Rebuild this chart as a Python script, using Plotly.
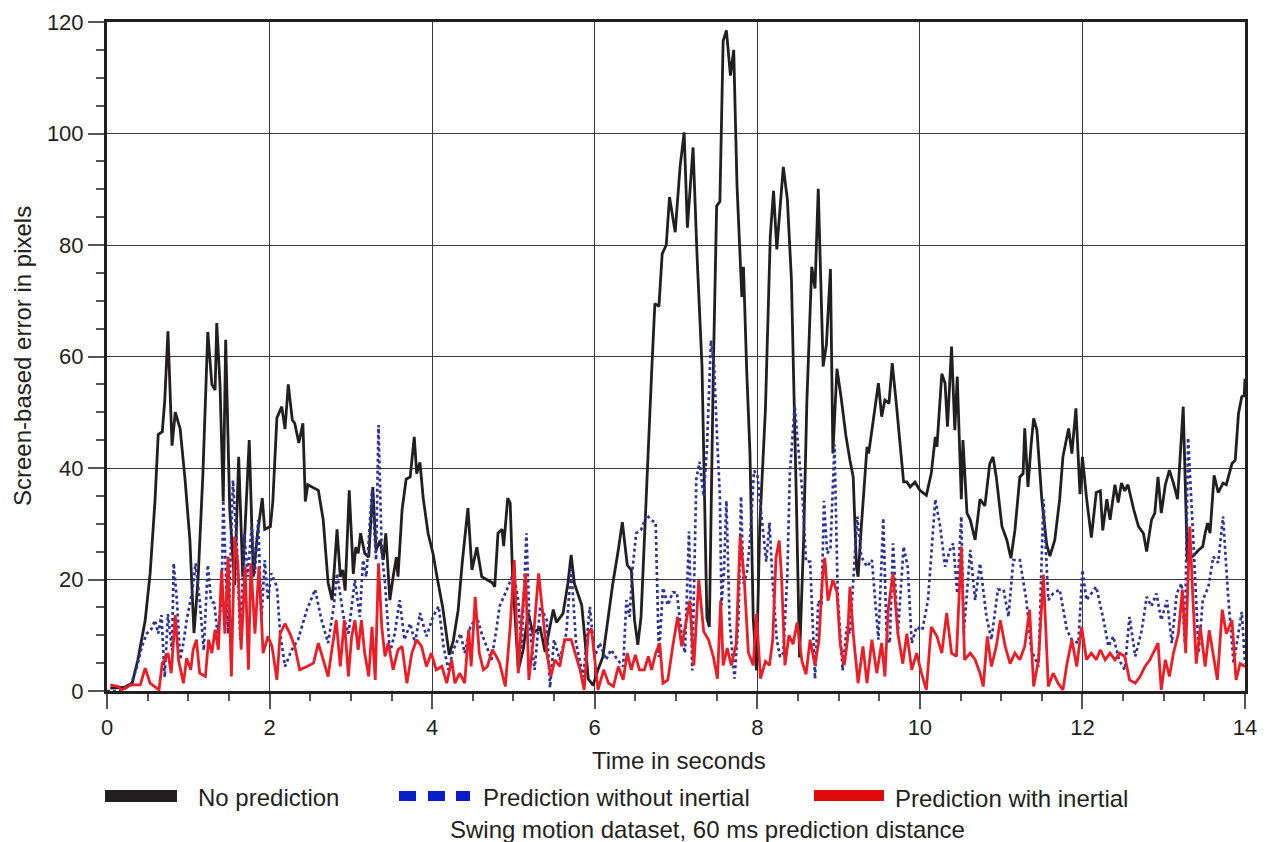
import plotly.graph_objects as go

# ---------------- data ----------------
t_none = [0.04, 0.22, 0.31, 0.38, 0.47, 0.53, 0.59, 0.63, 0.68, 0.71, 0.75, 0.80, 0.84, 0.90, 0.96,
          1.02, 1.07, 1.12, 1.18, 1.24, 1.29, 1.33, 1.35, 1.39, 1.43, 1.46, 1.51, 1.57, 1.62, 1.67,
          1.75, 1.80, 1.85, 1.91, 1.94, 2.01, 2.04, 2.09, 2.15, 2.19, 2.23, 2.28, 2.31, 2.36, 2.41,
          2.44, 2.47, 2.53, 2.60, 2.66, 2.72, 2.77, 2.83, 2.87, 2.90, 2.93, 2.98, 3.03, 3.06, 3.09,
          3.12, 3.17, 3.22, 3.27, 3.31, 3.36, 3.40, 3.43, 3.48, 3.52, 3.56, 3.58, 3.63, 3.68, 3.73,
          3.78, 3.81, 3.85, 3.89, 3.95, 4.01, 4.06, 4.13, 4.21, 4.26, 4.32, 4.37, 4.44, 4.49, 4.55,
          4.61, 4.67, 4.74, 4.77, 4.81, 4.86, 4.88, 4.93, 4.96, 4.99, 5.06, 5.12, 5.18, 5.24, 5.33,
          5.39, 5.45, 5.49, 5.53, 5.61, 5.67, 5.71, 5.75, 5.84, 5.88, 5.92, 5.98, 6.04, 6.10, 6.16,
          6.22, 6.29, 6.34, 6.40, 6.45, 6.49, 6.53, 6.57, 6.62, 6.66, 6.70, 6.74, 6.79, 6.83, 6.88,
          6.92, 6.99, 7.05, 7.10, 7.14, 7.21, 7.26, 7.32, 7.38, 7.41, 7.46, 7.50, 7.54, 7.58, 7.62,
          7.67, 7.71, 7.75, 7.81, 7.83, 7.87, 7.91, 7.95, 7.99, 8.03, 8.10, 8.16, 8.20, 8.24, 8.28,
          8.32, 8.37, 8.42, 8.48, 8.52, 8.57, 8.61, 8.67, 8.71, 8.75, 8.78, 8.81, 8.85, 8.90, 8.93,
          8.98, 9.03, 9.09, 9.14, 9.18, 9.22, 9.24, 9.28, 9.35, 9.37, 9.43, 9.49, 9.53, 9.57, 9.62,
          9.66, 9.71, 9.80, 9.84, 9.88, 9.94, 10.00, 10.08, 10.14, 10.19, 10.21, 10.27, 10.31, 10.34,
          10.39, 10.43, 10.46, 10.51, 10.53, 10.58, 10.62, 10.68, 10.74, 10.80, 10.86, 10.90, 10.94,
          11.01, 11.07, 11.12, 11.17, 11.23, 11.27, 11.29, 11.33, 11.37, 11.40, 11.44, 11.50, 11.56,
          11.60, 11.66, 11.72, 11.76, 11.83, 11.87, 11.92, 11.97, 12.00, 12.05, 12.11, 12.17, 12.22,
          12.25, 12.30, 12.34, 12.40, 12.44, 12.48, 12.52, 12.56, 12.63, 12.69, 12.75, 12.79, 12.85,
          12.89, 12.93, 12.97, 13.02, 13.07, 13.12, 13.17, 13.20, 13.24, 13.29, 13.36, 13.43, 13.48,
          13.51, 13.54, 13.57, 13.62, 13.67, 13.73, 13.77, 13.84, 13.88, 13.92, 13.96, 13.99, 14.00]
v_none = [0.5, 0.7, 1.4, 5.6, 12.7, 21, 34, 46, 46.5, 52, 64.5, 44, 50, 47, 38,
          27, 10.4, 20, 39, 64.4, 55, 54, 66, 55, 34, 63, 32.5, 19, 42, 20.5,
          45, 20.5, 28, 34.6, 29, 29.5, 34, 49, 51, 47, 55, 48.6, 48, 44.5, 48,
          34, 37, 36.6, 36, 30.7, 19.4, 16.3, 29, 20.5, 21.7, 18, 36, 21, 25.8, 24.7,
          28.3, 24.7, 24, 36.6, 25.3, 27, 23.5, 28.3, 16.3, 20.5, 24, 20.5, 32.5, 38, 38.4,
          45.6, 39, 41, 34.6, 28.3, 24.7, 20.5, 15, 6.5, 9, 14.5, 23, 32.8, 21.7, 25.8,
          20.5, 20, 19.4, 18.7, 28.3, 29, 26, 34.6, 33.7, 20.5, 3.8, 7.4, 14, 10.4, 11.3,
          7, 11.5, 14.6, 12.3, 13.9, 19.3, 24.4, 19.3, 15.4, 9.2, 2.2, 1.0, 3.8, 6.1, 12.7,
          19, 25.3, 30.3, 22.6, 21.7, 12.7, 8.3, 13.3, 31, 44.5, 57, 69.5, 69, 78.4, 80,
          88.6, 82.3, 94, 100.2, 83.1, 97.5, 77.7, 58.2, 13.1, 11.5, 58.2, 87, 87.8, 116.6, 118.5,
          110.4, 115, 90.9, 70.7, 76.1, 57.4, 42.6, 13.1, 3.7, 29.4, 50.4, 81.6, 89.7, 79.2, 86.2,
          94, 88.2, 73.8, 34.9, 6, 27.1, 52, 76.1, 72.2, 90.1, 76.1, 58.2, 62.1, 75.7, 42.6,
          57.8, 52.8, 45.8, 41.4, 38.4, 22.3, 20.5, 29.5, 43.8, 42.6, 48.6, 55.2, 49.2, 52.2, 51.6,
          58.8, 51.6, 37.5, 37.5, 36.6, 37.5, 36, 35.1, 39, 45.6, 43.8, 56.9, 55.2, 47.4,
          61.8, 46.8, 56.4, 34.4, 45, 31.9, 30.7, 27.1, 34.4, 33.2, 40.8, 42, 38.4,
          29.5, 27.1, 23.8, 28.9, 38.4, 39, 47.1, 36.6, 44.4, 48.9, 46.8, 34.4, 26.3,
          24.2, 27.1, 34.4, 42, 47.1, 42.6, 50.7, 35.3, 42, 34.7, 27.5, 35.6, 35.9,
          28.8, 34.4, 30.7, 37, 33.8, 37.3, 35.9, 37, 32.6, 29.5, 28.3, 25, 30.7,
          31.9, 38.4, 31.9, 37, 39.6, 37.3, 34.4, 41.4, 51, 23.6, 24.2, 25.3, 25.9,
          28.3, 30.1, 28.3, 38.7, 35.6, 37.3, 37, 40.8, 41.4, 49.8, 52.8, 53, 56]

t_no_inertial = [0.00, 0.10, 0.22, 0.30, 0.37, 0.43, 0.49, 0.55, 0.59, 0.63, 0.67, 0.69, 0.71, 0.75,
                 0.80, 0.82, 0.86, 0.90, 0.94, 0.98, 1.05, 1.09, 1.14, 1.19, 1.24, 1.28, 1.32, 1.36,
                 1.41, 1.43, 1.47, 1.49, 1.55, 1.60, 1.64, 1.69, 1.73, 1.78, 1.82, 1.86, 1.90, 1.94,
                 1.98, 2.02, 2.09, 2.13, 2.19, 2.27, 2.35, 2.46, 2.56, 2.64, 2.72, 2.79, 2.83, 2.91,
                 2.97, 3.05, 3.11, 3.15, 3.19, 3.26, 3.31, 3.34, 3.38, 3.42, 3.48, 3.54, 3.60, 3.66,
                 3.73, 3.79, 3.85, 3.93, 4.01, 4.08, 4.14, 4.20, 4.26, 4.35, 4.40, 4.47, 4.55, 4.61,
                 4.67, 4.73, 4.79, 4.83, 4.92, 5.00, 5.06, 5.10, 5.16, 5.20, 5.26, 5.33, 5.41, 5.45,
                 5.50, 5.57, 5.65, 5.71, 5.77, 5.86, 5.94, 6.00, 6.06, 6.14, 6.20, 6.28, 6.35, 6.39,
                 6.43, 6.46, 6.51, 6.57, 6.64, 6.69, 6.75, 6.79, 6.84, 6.90, 6.96, 7.01, 7.07, 7.11,
                 7.16, 7.20, 7.25, 7.29, 7.34, 7.38, 7.43, 7.47, 7.50, 7.54, 7.56, 7.59, 7.62, 7.66,
                 7.72, 7.77, 7.80, 7.83, 7.87, 7.91, 7.96, 8.00, 8.06, 8.11, 8.15, 8.19, 8.24, 8.28,
                 8.32, 8.37, 8.40, 8.46, 8.50, 8.55, 8.60, 8.65, 8.71, 8.75, 8.79, 8.82, 8.86, 8.90,
                 8.95, 8.99, 9.05, 9.10, 9.14, 9.18, 9.23, 9.28, 9.35, 9.41, 9.45, 9.49, 9.55, 9.59,
                 9.63, 9.67, 9.73, 9.80, 9.85, 9.90, 9.96, 10.03, 10.10, 10.19, 10.25, 10.31, 10.37,
                 10.41, 10.46, 10.51, 10.54, 10.62, 10.68, 10.74, 10.82, 10.88, 10.96, 11.03, 11.09,
                 11.15, 11.23, 11.31, 11.37, 11.46, 11.52, 11.58, 11.64, 11.72, 11.81, 11.87, 11.95,
                 12.00, 12.05, 12.11, 12.17, 12.26, 12.32, 12.38, 12.45, 12.52, 12.58, 12.65, 12.73,
                 12.79, 12.85, 12.91, 12.97, 13.04, 13.10, 13.16, 13.22, 13.26, 13.30, 13.36, 13.43,
                 13.48, 13.55, 13.61, 13.67, 13.73, 13.79, 13.86, 13.92, 13.96, 14.00]
v_no_inertial = [0.0, 0.0, 0.4, 1.4, 4.4, 8, 10.3, 11.2, 12.7, 10.3, 13.6, 6.8, 2.5, 13.8,
                 7.3, 22.9, 16.3, 5.6, 8.6, 12.7, 18, 22.9, 16.3, 7.3, 22.6, 16.3, 15.7, 10.3,
                 16.3, 34.2, 16.3, 10.3, 37.8, 25.3, 9.2, 28.3, 20.5, 29.5, 21.1, 30.7, 12.7, 23.5,
                 16.3, 21.1, 18.7, 10.3, 4.4, 7.3, 9.2, 14.6, 18.2, 12.7, 8.6, 15.2, 21.1, 13.3,
                 10.3, 19.9, 13.3, 23.5, 20.5, 36, 23.5, 47.7, 24.7, 19.4, 6.8, 10.3, 16.3, 9.2,
                 12.1, 8.6, 14, 9.8, 13.3, 15.2, 8, 3.8, 7.4, 10.3, 6.8, 11.5, 13.3, 10.3,
                 8, 5.6, 11, 15.2, 18.2, 21.1, 16.3, 7.4, 28.3, 11.5, 3.8, 15.2, 12.7, 0.6,
                 9.2, 5.6, 10.3, 22.3, 8.6, 2.5, 15.1, 6.1, 8.6, 5.6, 7.4, 5.6, 4.4, 16.3,
                 13.3, 21.1, 28.3, 28.9, 31.6, 30.7, 30.2, 6.1, 18.5, 15.4, 17.7, 17.7, 10, 6.8,
                 28.6, 3.7, 38, 41.1, 34.9, 43.4, 62.9, 58.2, 47.3, 34.9, 15.4, 21.6, 34.1, 12.3,
                 2.2, 13.1, 34.9, 19.3, 20.9, 27.1, 39.5, 38.8, 30.2, 23.2, 30.2, 19.3, 9.2, 6.1,
                 6.8, 20.9, 38.8, 51.2, 44.2, 36.4, 23.2, 23.2, 2.2, 16.2, 15.4, 34.1, 24.7, 25.5,
                 44.2, 17, 3.7, 11.5, 10.3, 20.5, 31.3, 24.1, 22.3, 23.5, 16.3, 9.2, 31, 10.3,
                 8.6, 26.5, 10.3, 25.9, 22.3, 8.6, 11.5, 10.9, 16.3, 34.4, 29.5, 22.3, 25.3,
                 26.5, 17.5, 31.3, 10.3, 25.3, 16.3, 22.9, 13.3, 9.2, 18.2, 18.2, 13.3,
                 23.5, 23.5, 16.3, 7.4, 4.4, 34.4, 16.3, 17.5, 18.2, 10.9, 9.2, 8.6,
                 21.7, 16.3, 17.5, 18.7, 12.7, 8, 9.8, 5.6, 3.8, 13.3, 6.2, 10.9,
                 16.9, 15.2, 17.5, 12.7, 16.3, 8.6, 17.5, 19.3, 8.6, 45.4, 28.3, 6.8,
                 16.3, 18.7, 24.1, 23, 31.3, 17.5, 4.9, 10.3, 14.2, 4.9]

t_inertial = [0.04, 0.14, 0.18, 0.30, 0.41, 0.47, 0.53, 0.59, 0.64, 0.68, 0.71, 0.75, 0.79, 0.84,
              0.88, 0.94, 0.98, 1.03, 1.06, 1.10, 1.14, 1.21, 1.25, 1.29, 1.33, 1.37, 1.41, 1.45,
              1.49, 1.53, 1.57, 1.61, 1.65, 1.70, 1.74, 1.77, 1.82, 1.87, 1.92, 1.98, 2.03, 2.09,
              2.13, 2.19, 2.25, 2.31, 2.37, 2.46, 2.54, 2.60, 2.66, 2.72, 2.76, 2.82, 2.87, 2.92,
              2.97, 3.01, 3.05, 3.09, 3.13, 3.17, 3.22, 3.26, 3.30, 3.34, 3.38, 3.42, 3.46, 3.52,
              3.58, 3.63, 3.69, 3.75, 3.81, 3.87, 3.93, 3.99, 4.05, 4.12, 4.18, 4.24, 4.28, 4.34,
              4.40, 4.45, 4.48, 4.53, 4.58, 4.63, 4.68, 4.74, 4.79, 4.83, 4.90, 4.96, 5.01, 5.06,
              5.10, 5.15, 5.19, 5.24, 5.31, 5.35, 5.41, 5.46, 5.51, 5.57, 5.63, 5.71, 5.76, 5.82,
              5.87, 5.92, 5.96, 6.00, 6.04, 6.11, 6.17, 6.23, 6.29, 6.35, 6.40, 6.45, 6.50, 6.55,
              6.61, 6.66, 6.70, 6.75, 6.80, 6.84, 6.90, 6.96, 7.02, 7.07, 7.13, 7.17, 7.22, 7.28,
              7.34, 7.40, 7.46, 7.51, 7.55, 7.58, 7.63, 7.68, 7.74, 7.79, 7.84, 7.89, 7.95, 7.99,
              8.04, 8.10, 8.15, 8.19, 8.23, 8.27, 8.30, 8.34, 8.39, 8.44, 8.49, 8.55, 8.60, 8.65,
              8.71, 8.76, 8.80, 8.83, 8.87, 8.93, 8.98, 9.02, 9.07, 9.11, 9.14, 9.18, 9.24, 9.30,
              9.35, 9.41, 9.47, 9.53, 9.57, 9.61, 9.67, 9.73, 9.79, 9.84, 9.90, 9.96, 10.02, 10.08,
              10.14, 10.21, 10.27, 10.33, 10.39, 10.45, 10.51, 10.55, 10.62, 10.68, 10.74, 10.78,
              10.83, 10.88, 10.94, 10.99, 11.05, 11.11, 11.17, 11.23, 11.29, 11.35, 11.40, 11.46,
              11.52, 11.58, 11.64, 11.70, 11.76, 11.81, 11.87, 11.93, 11.99, 12.05, 12.11, 12.17,
              12.22, 12.28, 12.34, 12.40, 12.46, 12.52, 12.58, 12.65, 12.71, 12.77, 12.83, 12.89,
              12.93, 12.97, 13.02, 13.07, 13.12, 13.18, 13.23, 13.27, 13.32, 13.36, 13.40, 13.45,
              13.51, 13.56, 13.61, 13.66, 13.72, 13.77, 13.84, 13.89, 13.94, 14.00]
v_inertial = [1.1, 0.8, 0.2, 1.1, 1.1, 4.1, 1.4, 0.8, 0.2, 5, 5.6, 6.8, 3.2, 13.6,
              5.6, 1.4, 5.9, 3.8, 7.4, 9.2, 3.2, 2.6, 9.2, 6.8, 11, 7.4, 21.7, 10.3,
              24.1, 2.6, 27.7, 22.9, 7.4, 22.3, 3.8, 22.9, 10.3, 22.3, 6.8, 9.8, 8, 2,
              10.3, 12.1, 10.3, 8, 3.8, 4.4, 5, 8.6, 5.6, 2.6, 6.8, 12.7, 4.4, 12.7,
              2.6, 9.8, 12.7, 7.4, 12.7, 6.8, 2.6, 11.5, 2, 22.9, 11.5, 6.2, 8.6, 3.8,
              7.4, 8, 1.4, 6.8, 9.2, 8, 4.4, 6.8, 3.8, 4.4, 1.4, 5.6, 1.4, 3.2,
              1.4, 11, 4.4, 16.9, 6.8, 3.8, 4.4, 7.4, 6.2, 5, 0.8, 11.5, 23.5, 3.2,
              12.7, 21.1, 2, 8.6, 21.1, 15.1, 6.8, 2.6, 5.6, 4.4, 9.2, 9.2, 6.8, 3.8,
              0.2, 10.3, 11.2, 5.6, 0.2, 3.8, 1.4, 0.8, 4.4, 2, 6.8, 3.8, 6.5, 3.8,
              3.8, 6.2, 3.8, 6.8, 8.6, 1.4, 2, 8, 13.3, 8, 12.7, 16.2, 4.6, 20,
              10.7, 9.2, 6.1, 2.2, 16.2, 4.6, 7.7, 4.6, 8.4, 27.8, 20, 6.9, 4.6, 13.8,
              2.2, 5.3, 4.6, 9.2, 23.9, 27, 20, 4.6, 10, 8.4, 12.3, 5.3, 3, 9.2,
              4.6, 9.2, 20, 23.9, 16.2, 20, 17.7, 8.4, 4.6, 9.2, 18.7, 10.3, 1.4, 8,
              1.4, 9.2, 3.2, 8.6, 2.6, 14.6, 21.1, 10.3, 4.9, 10.3, 3.8, 6.8, 3.2, 0.2,
              11.5, 9.8, 6.8, 14, 6.8, 6.2, 25.9, 5.6, 6.8, 5.6, 3.2, 0.8,
              9.8, 4.4, 8, 12.7, 8, 4.9, 6.8, 5.6, 8, 14.6, 0.8, 5.6,
              20.9, 0.8, 3.2, 1.4, 0.2, 4.9, 9.2, 4.4, 11.5, 5.6, 6.8, 5.6,
              7.4, 5.6, 6.8, 5.6, 6.8, 6.2, 2, 1.4, 2.6, 4.4, 5.6, 7.4,
              8.6, 0.2, 5.6, 2.6, 6.8, 10.3, 18.2, 6.8, 29.5, 16.3, 4.9, 11.5,
              4.4, 10.9, 6.8, 2, 14.6, 10.3, 12.7, 2, 4.9, 4.4]

series_names = ["No prediction", "Prediction without inertial", "Prediction with inertial"]
x_title = "Time in seconds"
y_title = "Screen-based error in pixels"
caption = "Swing motion dataset, 60 ms prediction distance"

# ---------------- styling ----------------
FONT = "Liberation Sans, Arial, Helvetica, sans-serif"
TXT = "#231f20"
C_BLACK = "#231f20"
C_BLUE = "#2b3494"
C_RED = "#ee1c25"

fig = go.Figure()
fig.add_trace(go.Scatter(x=t_none, y=v_none, mode="lines", name=series_names[0],
                         line=dict(color=C_BLACK, width=2.8), showlegend=False))
fig.add_trace(go.Scatter(x=t_no_inertial, y=v_no_inertial, mode="lines", name=series_names[1],
                         line=dict(color=C_BLUE, width=2.7, dash="3px,3px"), showlegend=False))
fig.add_trace(go.Scatter(x=t_inertial, y=v_inertial, mode="lines", name=series_names[2],
                         line=dict(color=C_RED, width=2.8), showlegend=False))

# the page body has an 8px margin, so the figure is shrunk by that offset
OFF = 8
W, H = 1273 - OFF, 842 - OFF
PL, PR, PT, PB = 107, 1245, 22, 691          # plot area in page pixels
L, T = PL - OFF, PT - OFF
R = W + OFF - PR
B = H + OFF - PB
pw, ph = PR - PL, PB - PT


def px(x):
    return (x - PL) / pw


def py(y):
    return (PB - y) / ph


fig.update_layout(
    width=W, height=H,
    margin=dict(l=L, r=R, t=T, b=B, pad=0, autoexpand=False),
    paper_bgcolor="white", plot_bgcolor="white",
    font=dict(family=FONT, size=22, color=TXT),
    showlegend=False,
)
fig.update_xaxes(
    range=[0, 14], tickmode="linear", tick0=0, dtick=2, automargin=False,
    showgrid=True, gridcolor="#3a3a3a", gridwidth=1.3,
    showline=True, linecolor="#231f20", linewidth=3, mirror=True,
    ticks="outside", ticklen=15, tickwidth=1.5, tickcolor="#555555",
    minor=dict(dtick=0.5, ticks="outside", ticklen=7, tickwidth=1.5, tickcolor="#555555", showgrid=False),
    zeroline=False, tickfont=dict(size=22, color=TXT),
)
fig.update_yaxes(
    range=[0, 120], tickmode="linear", tick0=0, dtick=20, automargin=False,
    showgrid=True, gridcolor="#3a3a3a", gridwidth=1.3,
    showline=True, linecolor="#231f20", linewidth=3, mirror=True,
    ticks="outside", ticklen=16, tickwidth=1.5, tickcolor="#555555",
    minor=dict(dtick=5, ticks="outside", ticklen=8, tickwidth=1.5, tickcolor="#555555", showgrid=False),
    zeroline=False, tickfont=dict(size=22, color=TXT),
)

FS = 24
ann = []
ann.append(dict(x=px(679), y=py(760), xref="paper", yref="paper", text=x_title, showarrow=False,
                xanchor="center", yanchor="middle", font=dict(size=FS, color=TXT)))
ann.append(dict(x=px(22), y=py(356), xref="paper", yref="paper", text=y_title, showarrow=False,
                textangle=-90, xanchor="center", yanchor="middle", font=dict(size=FS, color=TXT)))
ann.append(dict(x=px(196), y=py(797), xref="paper", yref="paper", text=series_names[0], showarrow=False,
                xanchor="left", yanchor="middle", font=dict(size=FS, color=TXT)))
ann.append(dict(x=px(481), y=py(797), xref="paper", yref="paper", text=series_names[1], showarrow=False,
                xanchor="left", yanchor="middle", font=dict(size=FS, color=TXT)))
ann.append(dict(x=px(893), y=py(798), xref="paper", yref="paper", text=series_names[2], showarrow=False,
                xanchor="left", yanchor="middle", font=dict(size=FS, color=TXT)))
ann.append(dict(x=px(707), y=py(829), xref="paper", yref="paper", text=caption, showarrow=False,
                xanchor="center", yanchor="middle", font=dict(size=FS, color=TXT)))
fig.update_layout(annotations=ann)

shapes = []
shapes.append(dict(type="rect", xref="paper", yref="paper", x0=px(105), x1=px(177), y0=py(802), y1=py(790),
                   fillcolor="#231f20", line=dict(width=0)))
for a, b in [(399, 416), (428, 445), (456, 470)]:
    shapes.append(dict(type="rect", xref="paper", yref="paper", x0=px(a), x1=px(b), y0=py(801), y1=py(791),
                       fillcolor="#0a1ec8", line=dict(width=0)))
shapes.append(dict(type="rect", xref="paper", yref="paper", x0=px(814), x1=px(884), y0=py(801), y1=py(790),
                   fillcolor="#e00a0a", line=dict(width=0)))
fig.update_layout(shapes=shapes)

fig.write_html("out.html")
